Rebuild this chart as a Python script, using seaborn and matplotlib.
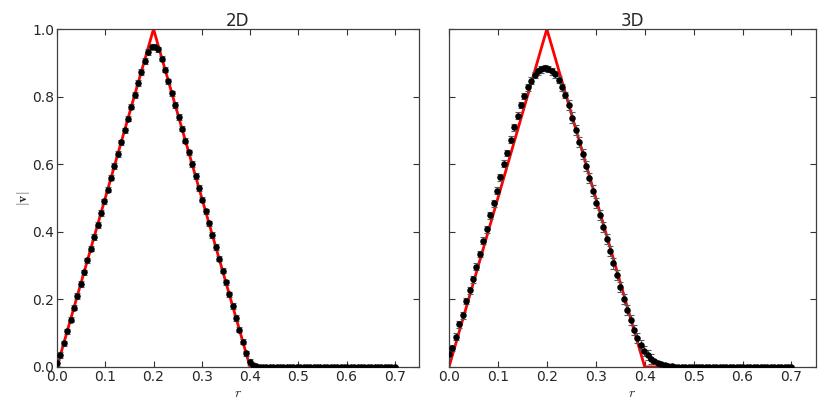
import numpy as np
import pandas as pd
import matplotlib
matplotlib.use("Agg")
import matplotlib.pyplot as plt
import seaborn as sns

# radial bins (spacing 0.007 from 0 to 0.7)
r_bins = [round(0.007 * k, 3) for k in range(101)]

# measured |v| in 2D
v_2d = [0.012, 0.035, 0.070, 0.105, 0.140, 0.175, 0.210, 0.245, 0.280, 0.315,
        0.350, 0.385, 0.420, 0.455, 0.490, 0.525, 0.560, 0.595, 0.630, 0.665,
        0.700, 0.735, 0.770, 0.805, 0.840, 0.873, 0.905, 0.932, 0.948, 0.948,
        0.940, 0.912, 0.880, 0.845, 0.810, 0.775, 0.740, 0.705, 0.670, 0.635,
        0.600, 0.565, 0.530, 0.495, 0.460, 0.425, 0.390, 0.355, 0.320, 0.285,
        0.250, 0.215, 0.180, 0.145, 0.110, 0.075, 0.040, 0.014, 0.005, 0.002,
        0.001] + [0.0] * 40
err_2d = [0.008] * 58 + [0.002] * 43

# measured |v| in 3D
v_3d = [0.037, 0.056, 0.089, 0.126, 0.153, 0.195, 0.227, 0.259, 0.296, 0.334,
        0.374, 0.407, 0.449, 0.484, 0.522, 0.561, 0.601, 0.633, 0.672, 0.709,
        0.743, 0.775, 0.802, 0.827, 0.847, 0.864, 0.875, 0.881, 0.885, 0.882,
        0.875, 0.866, 0.850, 0.828, 0.805, 0.776, 0.738, 0.702, 0.666, 0.630,
        0.594, 0.558, 0.522, 0.486, 0.450, 0.414, 0.378, 0.342, 0.306, 0.271,
        0.236, 0.202, 0.169, 0.138, 0.110, 0.085, 0.064, 0.047, 0.034, 0.024,
        0.017, 0.012, 0.008, 0.005, 0.003, 0.002, 0.001] + [0.0] * 34
err_3d = [0.010] * 35 + [0.015] * 25 + [0.003] * 41

# analytic profile
tri_r = [0.0, 0.2, 0.4, 0.7]
tri_v = [0.0, 1.0, 0.0, 0.0]

sns.set_style("ticks", {"xtick.direction": "in", "ytick.direction": "in"})
plt.rcParams["font.family"] = ["DejaVu Sans"]
plt.rcParams["mathtext.fontset"] = "cm"

fig = plt.figure(figsize=(8.3, 4.15), dpi=100)
ax1 = fig.add_axes([0.0687, 0.116, 0.436, 0.814])
ax2 = fig.add_axes([0.541, 0.116, 0.442, 0.814], sharey=ax1)

tri = pd.DataFrame({"r": tri_r, "v": tri_v})
panels = [(ax1, v_2d, err_2d, "2D"), (ax2, v_3d, err_3d, "3D")]
for ax, vals, errs, name in panels:
    df = pd.DataFrame({"r": r_bins, "v": vals, "e": errs})
    sns.lineplot(data=tri, x="r", y="v", color="red", lw=2, ax=ax, zorder=2)
    ax.errorbar(df["r"], df["v"], yerr=df["e"], fmt="none", ecolor="0.35",
                elinewidth=0.8, capsize=2, capthick=0.8, zorder=3)
    sns.scatterplot(data=df, x="r", y="v", color="black", s=22,
                    edgecolor="black", linewidth=0, ax=ax, zorder=4)
    ax.set_xlim(0, 0.75)
    ax.set_ylim(0, 1.0)
    ax.set_xticks([0.0, 0.1, 0.2, 0.3, 0.4, 0.5, 0.6, 0.7])
    ax.set_yticks([0.0, 0.2, 0.4, 0.6, 0.8, 1.0])
    ax.tick_params(top=True, right=True, length=4, width=0.8, labelsize=10,
                   color="0.2", pad=2)
    for sp in ax.spines.values():
        sp.set_color("0.25")
        sp.set_linewidth(0.9)
    ax.set_title(name, fontsize=12, pad=2)
    ax.set_xlabel("$r$", fontsize=10, labelpad=2)
    ax.set_ylabel("")

ax1.set_ylabel(r"$|\mathbf{v}|$", fontsize=10, labelpad=0)
ax2.tick_params(labelleft=False)

fig.savefig("out.png", dpi=100)
